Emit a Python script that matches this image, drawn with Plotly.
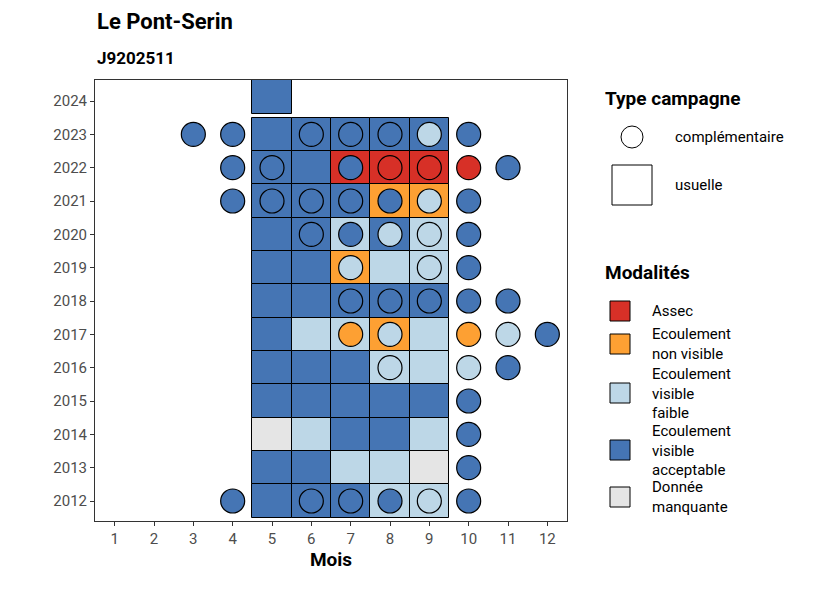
import plotly.graph_objects as go

years = list(range(2012, 2025))
months = list(range(1, 13))

# usuelle campaigns (tiles), months 5-9; codes: A=assec, O=non visible, L=visible faible, B=acceptable, G=manquante
usuelle = {
    2024: {5: "B"},
    2023: {5: "B", 6: "B", 7: "B", 8: "B", 9: "B"},
    2022: {5: "B", 6: "B", 7: "A", 8: "A", 9: "A"},
    2021: {5: "B", 6: "B", 7: "B", 8: "O", 9: "O"},
    2020: {5: "B", 6: "B", 7: "L", 8: "B", 9: "L"},
    2019: {5: "B", 6: "B", 7: "O", 8: "L", 9: "L"},
    2018: {5: "B", 6: "B", 7: "B", 8: "B", 9: "B"},
    2017: {5: "B", 6: "L", 7: "L", 8: "O", 9: "L"},
    2016: {5: "B", 6: "B", 7: "B", 8: "L", 9: "L"},
    2015: {5: "B", 6: "B", 7: "B", 8: "B", 9: "B"},
    2014: {5: "G", 6: "L", 7: "B", 8: "B", 9: "L"},
    2013: {5: "B", 6: "B", 7: "L", 8: "L", 9: "G"},
    2012: {5: "B", 6: "B", 7: "B", 8: "L", 9: "L"},
}
# complementaire campaigns (circles)
complementaire = {
    2023: {3: "B", 4: "B", 6: "B", 7: "B", 8: "B", 9: "L", 10: "B"},
    2022: {4: "B", 5: "B", 7: "B", 8: "A", 9: "A", 10: "A", 11: "B"},
    2021: {4: "B", 5: "B", 6: "B", 7: "B", 8: "B", 9: "L", 10: "B"},
    2020: {6: "B", 7: "B", 8: "L", 9: "L", 10: "B"},
    2019: {7: "L", 9: "L", 10: "B"},
    2018: {7: "B", 8: "B", 9: "B", 10: "B", 11: "B"},
    2017: {7: "O", 8: "L", 10: "O", 11: "L", 12: "B"},
    2016: {8: "L", 10: "L", 11: "B"},
    2015: {10: "B"},
    2014: {10: "B"},
    2013: {10: "B"},
    2012: {4: "B", 6: "B", 7: "B", 8: "B", 9: "L", 10: "B"},
}

codes = ["A", "O", "L", "B", "G"]
labels = ["Assec", "Ecoulement<br>non visible", "Ecoulement<br>visible<br>faible",
          "Ecoulement<br>visible<br>acceptable", "Donnée<br>manquante"]
colors = {"A": "#D73027", "O": "#FDA033", "L": "#BDD7E7", "B": "#4575B4", "G": "#E5E5E5"}

fig = go.Figure()
for c in codes:
    xs, bases, hs = [], [], []
    for y, row in usuelle.items():
        for m, v in row.items():
            if v == c:
                xs.append(m)
                # last year's tile sits a little higher and runs past the top edge
                bases.append(y - 0.4 if y == 2024 else y - 0.5)
                hs.append(1.5 if y == 2024 else 1)
    fig.add_trace(go.Bar(x=xs, y=hs, base=bases, width=1,
                         marker=dict(color=colors[c], line=dict(color="black", width=1)),
                         showlegend=False, hoverinfo="skip"))
for c in codes:
    xs, ys = [], []
    for y, row in complementaire.items():
        for m, v in row.items():
            if v == c:
                xs.append(m)
                ys.append(y)
    fig.add_trace(go.Scatter(x=xs, y=ys, mode="markers", cliponaxis=True,
                             marker=dict(size=24, color=colors[c], line=dict(color="black", width=1.2)),
                             showlegend=False, hoverinfo="skip"))

OFF = 8  # page body offset
L, R, T, B = 95, 567, 80, 521
def px(x): return (x - L) / (R - L)
def py(y): return (B - y) / (B - T)

shapes = []
ann = []
font = dict(family="Roboto, Liberation Sans, sans-serif", size=15, color="black")
ann.append(dict(x=px(95), y=py(22), text="<b>Le Pont-Serin</b>", font=dict(size=22, color="black"),
                xanchor="left", yanchor="middle"))
ann.append(dict(x=px(95), y=py(58), text="<b>J9202511</b>", font=dict(size=17, color="black"),
                xanchor="left", yanchor="middle"))
ann.append(dict(x=px(603), y=py(99), text="<b>Type campagne</b>", font=dict(size=19, color="black"),
                xanchor="left", yanchor="middle"))
shapes.append(dict(type="circle", x0=px(621), x1=px(643), y0=py(126), y1=py(148),
                   line=dict(color="black", width=1), fillcolor="white"))
ann.append(dict(x=px(673), y=py(137), text="complémentaire", font=font, xanchor="left", yanchor="middle"))
shapes.append(dict(type="rect", x0=px(612), x1=px(652), y0=py(165), y1=py(205),
                   line=dict(color="black", width=1), fillcolor="white"))
ann.append(dict(x=px(673), y=py(185), text="usuelle", font=font, xanchor="left", yanchor="middle"))
ann.append(dict(x=px(603), y=py(272), text="<b>Modalités</b>", font=dict(size=19, color="black"),
                xanchor="left", yanchor="middle"))
leg_y = [311, 344, 393, 450, 497]
for c, lab, yy in zip(codes, labels, leg_y):
    shapes.append(dict(type="rect", x0=px(610), x1=px(630), y0=py(yy - 10), y1=py(yy + 10),
                       line=dict(color="black", width=1), fillcolor=colors[c]))
    ann.append(dict(x=px(650), y=py(yy), text=lab, font=font, xanchor="left", yanchor="middle", align="left"))
for a in ann:
    a.update(xref="paper", yref="paper", showarrow=False)
for s in shapes:
    s.update(xref="paper", yref="paper", layer="above")

fig.update_layout(
    width=826, height=590,
    margin=dict(l=L - OFF, r=826 - R + OFF, t=T - OFF, b=590 - B + OFF),
    plot_bgcolor="white", paper_bgcolor="white", barmode="overlay", bargap=0,
    font=dict(family="Roboto, Liberation Sans, sans-serif", color="#4d4d4d", size=15),
    shapes=shapes, annotations=ann,
)
fig.update_xaxes(range=[0.5, 12.5], tickvals=months, ticks="outside", ticklen=4, tickcolor="#333",
                 showgrid=False, zeroline=False, mirror=True, showline=True, linecolor="#333", linewidth=1,
                 title=dict(text="<b>Mois</b>", font=dict(size=19, color="black"), standoff=4))
fig.update_yaxes(range=[2011.4, 2024.63], tickvals=years, ticks="outside", ticklen=4, tickcolor="#333",
                 showgrid=False, zeroline=False, mirror=True, showline=True, linecolor="#333", linewidth=1)
fig.write_html("out.html")
